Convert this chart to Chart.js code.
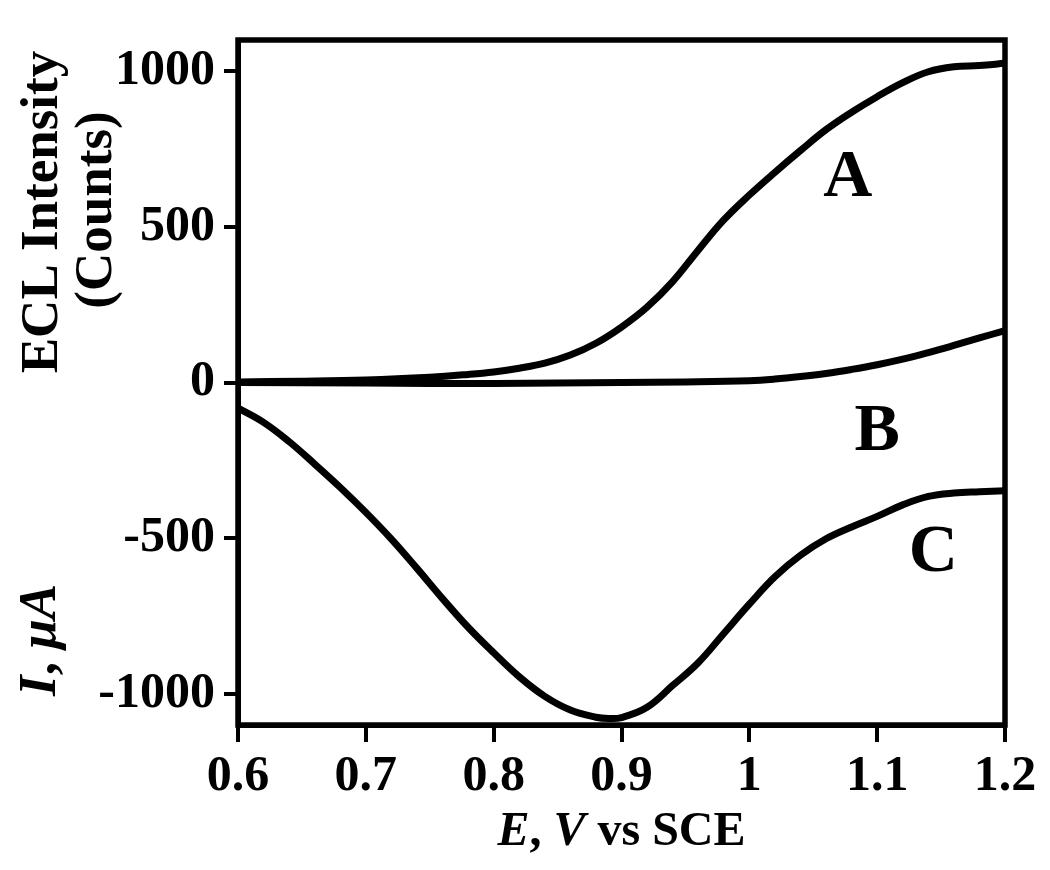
<!DOCTYPE html>
<html>
<head>
<meta charset="utf-8">
<script src="https://cdn.jsdelivr.net/npm/chart.js@4.4.1/dist/chart.umd.min.js"></script>
<style>
  html, body { margin: 0; padding: 0; background: #fff; }
  #wrap { width: 1050px; height: 870px; }
</style>
</head>
<body>
<div id="wrap"><canvas id="c" width="1050" height="870"></canvas></div>
<script>
// ---- Data ----
const potentialA = [0.60, 0.65, 0.70, 0.75, 0.78, 0.80, 0.82, 0.84, 0.86, 0.88, 0.90, 0.92, 0.94, 0.96, 0.98, 1.00, 1.02, 1.04, 1.06, 1.08, 1.10, 1.12, 1.14, 1.16, 1.18, 1.20];
const eclA       = [2, 4, 8, 17, 26, 34, 46, 62, 88, 126, 178, 242, 324, 425, 522, 602, 675, 745, 812, 868, 918, 963, 998, 1014, 1018, 1025];

const potentialB = [0.60, 0.70, 0.80, 0.90, 0.95, 1.00, 1.02, 1.04, 1.06, 1.08, 1.10, 1.12, 1.14, 1.16, 1.18, 1.20];
const eclB       = [0, -2, -3, 0, 2, 6, 11, 19, 29, 42, 57, 75, 96, 119, 143, 167];

const potentialC = [0.60, 0.62, 0.64, 0.66, 0.68, 0.70, 0.72, 0.74, 0.76, 0.78, 0.80, 0.82, 0.84, 0.86, 0.88, 0.89, 0.90, 0.92, 0.94, 0.96, 0.98, 1.00, 1.02, 1.04, 1.06, 1.08, 1.10, 1.12, 1.14, 1.16, 1.18, 1.20];
const currentC   = [-82, -128, -190, -262, -337, -417, -503, -597, -694, -786, -868, -945, -1008, -1052, -1075, -1079, -1076, -1043, -973, -900, -806, -712, -624, -555, -502, -464, -430, -393, -366, -355, -351, -348];

const xTicks = [0.6, 0.7, 0.8, 0.9, 1.0, 1.1, 1.2];
const xTickLabels = ['0.6', '0.7', '0.8', '0.9', '1', '1.1', '1.2'];
const yTicks = [-1000, -500, 0, 500, 1000];
const yTickLabels = ['-1000', '-500', '0', '500', '1000'];

const curveNames = ['A', 'B', 'C'];
const curveLabelE = [1.077, 1.100, 1.144];
const curveLabelV = [655, -160, -549];

// ---- Build ----
const FONT = "'Liberation Serif', 'Times New Roman', serif";
const toXY = (xs, ys) => xs.map((x, i) => ({ x: x, y: ys[i] }));

function drawRich(ctx, segs, x, y, align) {
  let total = 0;
  segs.forEach(s => { ctx.font = s.font; total += ctx.measureText(s.text).width; });
  let cx = align === 'center' ? x - total / 2 : x;
  segs.forEach(s => {
    ctx.font = s.font;
    ctx.fillText(s.text, cx, y);
    cx += ctx.measureText(s.text).width;
  });
}

const decorPlugin = {
  id: 'decor',
  afterDatasetsDraw(chart) {
    const ctx = chart.ctx;
    const a = chart.chartArea;
    const xs = chart.scales.x, ys = chart.scales.y;
    ctx.save();
    // box
    ctx.strokeStyle = '#000';
    ctx.lineWidth = 5.5;
    ctx.strokeRect(a.left, a.top, a.right - a.left, a.bottom - a.top);
    // curve labels
    ctx.fillStyle = '#000';
    ctx.textAlign = 'center';
    ctx.textBaseline = 'middle';
    ctx.font = 'bold 68px ' + FONT;
    curveNames.forEach((n, i) => {
      ctx.fillText(n, xs.getPixelForValue(curveLabelE[i]), ys.getPixelForValue(curveLabelV[i]));
    });
    // x title
    ctx.textAlign = 'left';
    ctx.textBaseline = 'alphabetic';
    const bi = 'italic bold 48px ' + FONT, b = 'bold 48px ' + FONT;
    drawRich(ctx, [{text: 'E', font: bi}, {text: ', ', font: b}, {text: 'V', font: bi}, {text: ' vs SCE', font: b}],
      (a.left + a.right) / 2, 845, 'center');
    // y titles
    const b2 = 'bold 53px ' + FONT, bi2 = 'italic bold 53px ' + FONT;
    ctx.save();
    ctx.translate(57, 212);
    ctx.rotate(-Math.PI / 2);
    drawRich(ctx, [{text: 'ECL Intensity', font: b2}], 0, 0, 'center');
    ctx.restore();
    ctx.save();
    ctx.translate(111, 210);
    ctx.rotate(-Math.PI / 2);
    drawRich(ctx, [{text: '(Counts)', font: b2}], 0, 0, 'center');
    ctx.restore();
    ctx.save();
    ctx.translate(55, 640);
    ctx.rotate(-Math.PI / 2);
    drawRich(ctx, [{text: 'I', font: bi2}, {text: ', ', font: b2}, {text: 'μA', font: bi2}], 0, 0, 'center');
    ctx.restore();
    ctx.restore();
  }
};

const lineStyle = {
  borderColor: '#000',
  borderWidth: 7,
  pointRadius: 0,
  fill: false,
  tension: 0.4,
  borderJoinStyle: 'round',
  borderCapStyle: 'round'
};

new Chart(document.getElementById('c'), {
  type: 'line',
  data: {
    datasets: [
      Object.assign({ label: 'A', data: toXY(potentialA, eclA) }, lineStyle),
      Object.assign({ label: 'B', data: toXY(potentialB, eclB) }, lineStyle),
      Object.assign({ label: 'C', data: toXY(potentialC, currentC) }, lineStyle)
    ]
  },
  options: {
    responsive: false,
    animation: false,
    devicePixelRatio: 1,
    layout: { padding: { left: 0, top: 40, right: 45, bottom: 0 } },
    plugins: { legend: { display: false }, tooltip: { enabled: false } },
    scales: {
      x: {
        type: 'linear',
        min: 0.6, max: 1.2,
        afterBuildTicks(s) { s.ticks = xTicks.map(v => ({ value: v })); },
        afterFit(s) { s.height = 145; },
        ticks: {
          color: '#000',
          font: { family: FONT, size: 50, weight: 'bold' },
          padding: 5,
          maxRotation: 0,
          autoSkip: false,
          callback: (v, i) => xTickLabels[i]
        },
        grid: { drawOnChartArea: false, drawTicks: true, tickLength: 17, tickWidth: 4, tickColor: '#000', color: '#000', lineWidth: 4 },
        border: { display: true, color: '#000', width: 5 }
      },
      y: {
        type: 'linear',
        min: -1100, max: 1100,
        afterBuildTicks(s) { s.ticks = yTicks.map(v => ({ value: v })); },
        afterFit(s) { s.width = 238; },
        ticks: {
          color: '#000',
          font: { family: FONT, size: 50, weight: 'bold' },
          padding: 9,
          autoSkip: false,
          callback: (v, i) => yTickLabels[i]
        },
        grid: { drawOnChartArea: false, drawTicks: true, tickLength: 14, tickWidth: 4, tickColor: '#000', color: '#000', lineWidth: 4 },
        border: { display: true, color: '#000', width: 5 }
      }
    }
  },
  plugins: [decorPlugin]
});
</script>
</body>
</html>
